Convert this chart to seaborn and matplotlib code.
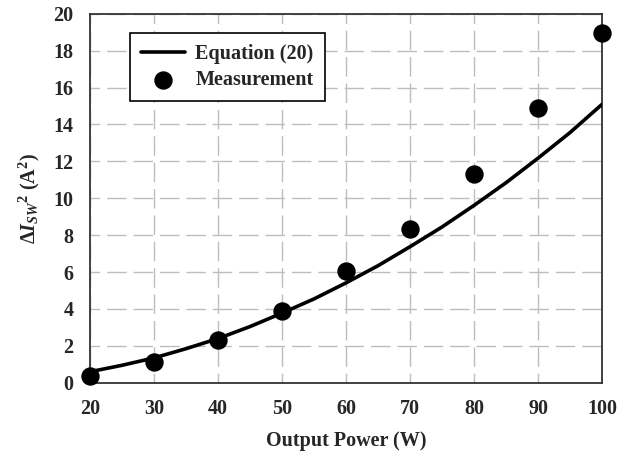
import numpy as np
import pandas as pd
import matplotlib
matplotlib.use('Agg')
import matplotlib.pyplot as plt
import seaborn as sns

# values
power_meas = [20, 30, 40, 50, 60, 70, 80, 90, 100]
isw2_meas = [0.38, 1.14, 2.33, 3.9, 6.05, 8.35, 11.3, 14.9, 18.95]

power_eq = [20, 25, 30, 35, 40, 45, 50, 55, 60, 65, 70, 75, 80, 85, 90, 95, 100]
isw2_eq = [0.6, 0.95, 1.35, 1.85, 2.4, 3.05, 3.78, 4.55, 5.42, 6.35, 7.38, 8.45, 9.62, 10.85, 12.18, 13.57, 15.1]

x_ticks = [20, 30, 40, 50, 60, 70, 80, 90, 100]
y_ticks = [0, 2, 4, 6, 8, 10, 12, 14, 16, 18, 20]

sns.set_style('white')
plt.rcParams['font.family'] = ['Liberation Serif', 'DejaVu Serif']
plt.rcParams['font.weight'] = 'bold'
plt.rcParams['mathtext.fontset'] = 'custom'
plt.rcParams['mathtext.rm'] = 'Liberation Serif:bold'
plt.rcParams['mathtext.it'] = 'Liberation Serif:italic:bold'
plt.rcParams['mathtext.bf'] = 'Liberation Serif:bold'

df_eq = pd.DataFrame({'P': power_eq, 'I': isw2_eq})
df_meas = pd.DataFrame({'P': power_meas, 'I': isw2_meas})

fig = plt.figure(figsize=(6.17, 4.59), dpi=100)
ax = fig.add_axes([0.146, 0.166, 0.83, 0.804])

ax.grid(True, color='#bdbdbd', linestyle=(7, (14, 5)), linewidth=1.0)
ax.set_axisbelow(True)

sns.lineplot(data=df_eq, x='P', y='I', ax=ax, color='black', linewidth=2.6,
             label='Equation (20)', zorder=3)
sns.scatterplot(data=df_meas, x='P', y='I', ax=ax, color='black', s=150,
                edgecolor='black', label='Measurement', zorder=4, clip_on=False)

ax.set_xlim(20, 100)
ax.set_ylim(0, 20)
ax.set_xticks(x_ticks)
ax.set_yticks(y_ticks)
ax.tick_params(axis='both', direction='out', length=5, width=1.2, color='#333333',
               labelsize=14.5, pad=7)
for lab in ax.get_xticklabels() + ax.get_yticklabels():
    lab.set_fontweight('bold')
for sp in ax.spines.values():
    sp.set_color('#333333')
    sp.set_linewidth(1.3)

ax.set_xlabel('Output Power (W)', fontsize=14.5, fontweight='bold', labelpad=8)
ax.set_ylabel(r'$\Delta I_{SW}{}^{2}$ (A$^{2}$)', fontsize=14.5, fontweight='bold', labelpad=8)

leg = ax.legend(loc='upper left', bbox_to_anchor=(0.078, 0.948), borderaxespad=0,
                fontsize=14.5, frameon=True, fancybox=False, edgecolor='black',
                framealpha=1, handlelength=2.2, handletextpad=0.5,
                borderpad=0.55, labelspacing=0.3)
leg.get_frame().set_linewidth(1.2)
for t in leg.get_texts():
    t.set_fontweight('bold')

fig.savefig('out.png', dpi=100)
